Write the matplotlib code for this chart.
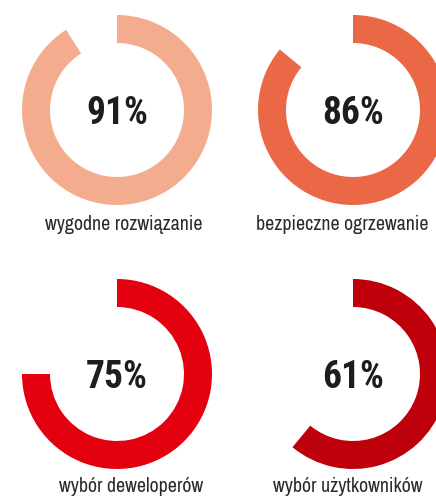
import matplotlib
matplotlib.use("Agg")
import matplotlib.pyplot as plt

W, H = 436, 496

values = [91, 86, 75, 61]
labels = ["wygodne rozwiązanie", "bezpieczne ogrzewanie",
          "wybór deweloperów", "wybór użytkowników"]
colors = ["#F3AD8E", "#EB6846", "#E3000F", "#BD0009"]

# donut centres / label centres in pixels (from top-left)
centers = [(117, 110), (353, 110), (117, 374), (353, 374)]
label_pos = [(124, 224), (342, 224), (131, 487), (348, 487)]
R = 95
RING = 28

fig = plt.figure(figsize=(W / 100, H / 100), dpi=100)
fig.patch.set_facecolor("white")

num_font = ["Roboto Condensed", "DejaVu Sans"]
lab_font = ["Archivo Narrow", "Roboto Condensed", "DejaVu Sans"]

for v, lab, c, (cx, cy), (lx, ly) in zip(values, labels, colors, centers, label_pos):
    ax = fig.add_axes([(cx - R) / W, (H - cy - R) / H, 2 * R / W, 2 * R / H])
    ax.pie([v, 100 - v], colors=[c, "none"], startangle=90, counterclock=False,
           radius=1, wedgeprops=dict(width=RING / R, linewidth=0))
    ax.set_xlim(-1, 1)
    ax.set_ylim(-1, 1)
    ax.axis("off")
    ax.text(0, -0.035, f"{v}%", ha="center", va="center", fontsize=27,
            fontweight="bold", color="#1d1d1f", family=num_font)
    fig.text(lx / W, 1 - ly / H, lab, ha="center", va="center", fontsize=14.3,
             color="#2a2a2a", family=lab_font)

fig.savefig("out.png", dpi=100, facecolor="white")
